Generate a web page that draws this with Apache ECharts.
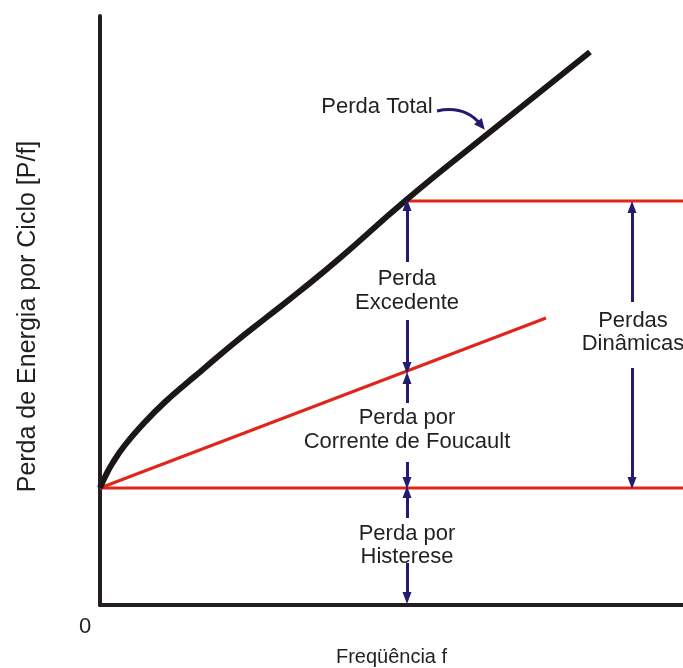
<!DOCTYPE html>
<html><head><meta charset="utf-8">
<script src="https://cdn.jsdelivr.net/npm/echarts@6/dist/echarts.min.js"></script>
<style>html,body{margin:0;padding:0;background:#fff}#c{width:683px;height:668px}</style>
</head><body><div id="c"></div>
<script>
// Frequency (arbitrary units) and energy loss per cycle (arbitrary units)
const totalX = [0, 0.1, 0.24, 0.5, 0.9, 1.3, 1.76, 2.0, 2.66, 3.34, 4.0, 4.8, 6.1, 7.6, 9.8];
const totalY = [2.34, 2.56, 2.82, 3.2, 3.66, 4.06, 4.46, 4.66, 5.22, 5.76, 6.28, 6.94, 8.08, 9.3, 11.06];
const eddyX = [0, 8.92];
const eddyY = [2.34, 5.74];
const hystY = 2.34;
const dynY = 8.08;
const xMax = 11.66, yMax = 11.78;
const dynStartX = 6.1;
// arrows: [x, yFrom, yTo] (arrow head at yTo)
const arrowX1 = 6.14, arrowX2 = 10.64;
const arrows = [
  [arrowX1, 6.86, 8.0], [arrowX1, 5.7, 4.74],
  [arrowX1, 4.04, 4.54], [arrowX1, 2.86, 2.44],
  [arrowX1, 1.74, 2.26], [arrowX1, 0.84, 0.14],
  [arrowX2, 6.06, 7.96], [arrowX2, 4.74, 2.44]
];
// annotation labels: [x, y, text]
const labels = [
  [6.14, 6.52, 'Perda'], [6.14, 6.04, 'Excedente'],
  [6.14, 3.74, 'Perda por'], [6.14, 3.26, 'Corrente de Foucault'],
  [6.14, 1.42, 'Perda por'], [6.14, 0.96, 'Histerese'],
  [10.66, 5.68, 'Perdas'], [10.66, 5.22, 'Dinâmicas'],
  [5.54, 9.96, 'Perda Total'], [-0.3, -0.44, '0']
];
// curved pointer for "Perda Total": start, control, end
const pointer = [[6.74, 9.88], [7.3, 10.0], [7.62, 9.6]];

const txt = '#231f20', red = '#e1251b', navy = '#231c6e';
const FS = 22, FF = '"Liberation Sans", Arial, sans-serif';

const chart = echarts.init(document.getElementById('c'));
chart.setOption({
  animation: false,
  grid: {left: 100, right: 0, top: 16, bottom: 63, containLabel: false, outerBoundsMode: 'none'},
  xAxis: {type: 'value', min: 0, max: xMax, axisLine: {onZero: false, lineStyle: {color: txt, width: 4}},
    axisTick: {show: false}, axisLabel: {show: false}, splitLine: {show: false},
    name: 'Freqüência f', nameLocation: 'middle', nameGap: 42,
    nameTextStyle: {fontSize: 20, fontFamily: FF, color: txt}},
  yAxis: {type: 'value', min: 0, max: yMax, axisLine: {onZero: false, lineStyle: {color: txt, width: 4}},
    axisTick: {show: false}, axisLabel: {show: false}, splitLine: {show: false},
    name: 'Perda de Energia por Ciclo [P/f]', nameLocation: 'middle', nameGap: 59,
    nameTextStyle: {fontSize: 25, fontFamily: FF, color: txt, padding: [0, 12, 0, 0]}},
  series: [
    {type: 'line', data: [[0, hystY], [xMax, hystY]], symbol: 'none', lineStyle: {color: red, width: 3}},
    {type: 'line', data: [[dynStartX, dynY], [xMax, dynY]], symbol: 'none', lineStyle: {color: red, width: 3}},
    {type: 'line', data: eddyX.map((x, i) => [x, eddyY[i]]), symbol: 'none', lineStyle: {color: red, width: 3}},
    {type: 'line', data: totalX.map((x, i) => [x, totalY[i]]), symbol: 'none', smooth: 0.5,
      lineStyle: {color: '#1a1716', width: 6, cap: 'butt'}},
    {type: 'line', data: [], markLine: {silent: true, animation: false, symbol: ['none', 'triangle'],
      symbolSize: [9, 12], symbolOffset: [0, 0], label: {show: false},
      lineStyle: {color: navy, width: 3, type: 'solid'},
      data: arrows.map(a => [{coord: [a[0], a[1]]}, {coord: [a[0], a[2]]}])}},
    {type: 'custom', clip: false, data: labels.map(l => [l[0], l[1]]),
      renderItem: (params, api) => {
        const p = api.coord([api.value(0), api.value(1)]);
        return {type: 'text', x: p[0], y: p[1],
          style: {text: labels[params.dataIndex][2], font: FS + 'px ' + FF, fill: txt,
            textAlign: 'center', textVerticalAlign: 'middle'}};
      }},
    {type: 'custom', clip: false, data: [pointer[0]],
      renderItem: (params, api) => {
        const a = api.coord(pointer[0]), c = api.coord(pointer[1]), b = api.coord(pointer[2]);
        const dx = b[0] - c[0], dy = b[1] - c[1], L = Math.hypot(dx, dy), ux = dx / L, uy = dy / L;
        const tip = [b[0] + ux * 6, b[1] + uy * 6];
        const base = [b[0] - ux * 5, b[1] - uy * 5];
        return {type: 'group', children: [
          {type: 'bezierCurve', shape: {x1: a[0], y1: a[1], cpx1: c[0], cpy1: c[1], x2: b[0], y2: b[1]},
            style: {stroke: navy, lineWidth: 3, fill: null}},
          {type: 'polygon', shape: {points: [tip, [base[0] - uy * 5, base[1] + ux * 5], [base[0] + uy * 5, base[1] - ux * 5]]},
            style: {fill: navy}}
        ]};
      }}
  ]
});
</script></body></html>
